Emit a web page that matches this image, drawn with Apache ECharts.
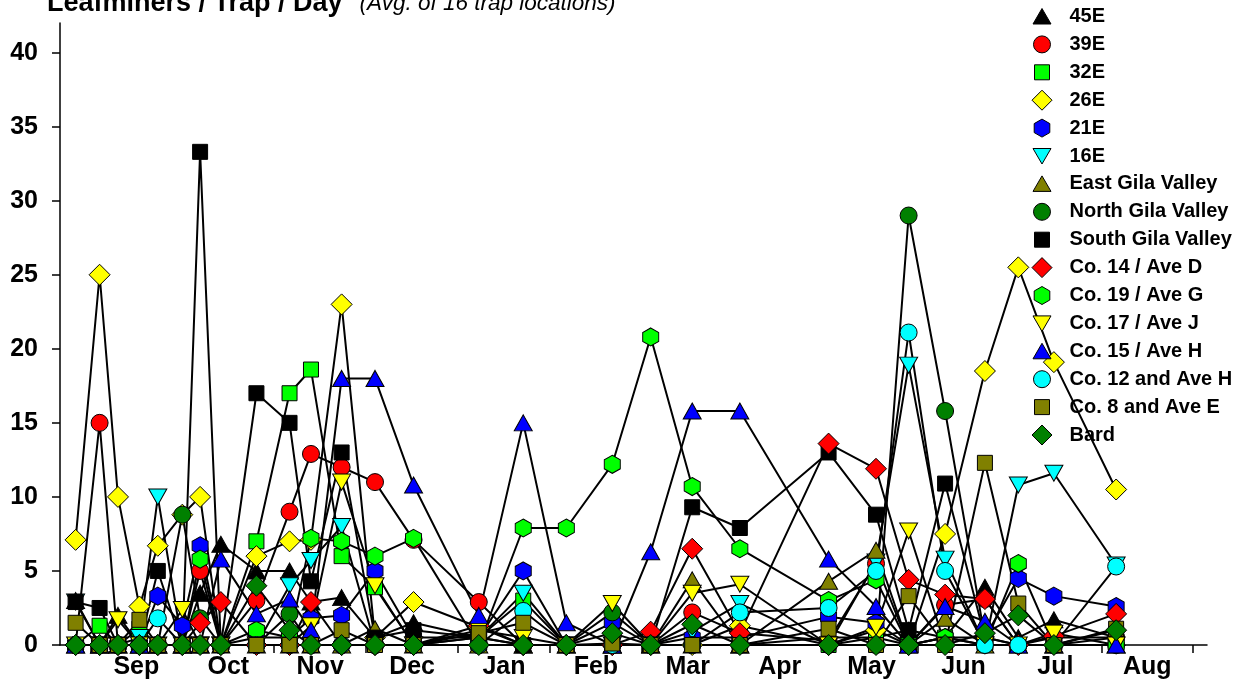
<!DOCTYPE html>
<html>
<head>
<meta charset="utf-8">
<script src="https://cdn.jsdelivr.net/npm/echarts@6/dist/echarts.min.js"></script>
<style>
  html, body { margin: 0; padding: 0; background: #fff; }
  #chart { width: 1252px; height: 684px; }
</style>
</head>
<body>
<div id="chart"></div>
<script>
// ---- Data ----
const sampleDates = [
  '2005-08-27','2005-09-04','2005-09-10','2005-09-17','2005-09-23','2005-10-01','2005-10-07','2005-10-14',
  '2005-10-26','2005-11-06','2005-11-13','2005-11-23','2005-12-04','2005-12-17','2006-01-08','2006-01-23',
  '2006-02-06','2006-02-20','2006-03-04','2006-03-18','2006-04-03','2006-05-02','2006-05-18','2006-05-29',
  '2006-06-10','2006-06-23','2006-07-04','2006-07-16','2006-08-06'
];
const monthLabels = ['Sep','Oct','Nov','Dec','Jan','Feb','Mar','Apr','May','Jun','Jul','Aug'];
const yTickValues = [0, 5, 10, 15, 20, 25, 30, 35, 40];

const s45E   = [3.0,0,2.0,0,0,0,3.5,6.8,5.0,5.0,2.9,3.2,0.5,1.5,0.5,0,0,0,0,0,0,0.5,0.5,1.0,0.5,3.9,0.5,1.7,0.5];
const s39E   = [0,15.0,0,0,0,0,5.0,0,3.0,9.0,12.9,12.0,11.0,7.1,2.9,0,0,0,0,2.2,0.8,0.3,5.5,0,2.7,3.1,0,0.5,0.5];
const s32E   = [0,1.3,0,1.1,0,0,0,0,7.0,17.0,18.6,6.0,3.9,0,0.5,3.0,0,0,0,0,0,0,0.5,0,0.5,0,0,0,0];
const s26E   = [7.1,25.0,10.0,2.6,6.7,8.8,10.0,0,6.0,7.0,7.1,23.0,0.5,2.9,1.2,0,0,0,0,0,1.3,0,1.0,0,7.5,18.5,25.5,19.1,10.5];
const s21E   = [0,0,0,0,3.3,1.3,6.7,0,0.5,0.5,1.8,2.0,5.0,0.5,0.5,5.0,0,1.5,0,0.5,0.5,1.9,1.5,0,0.5,0.5,4.5,3.3,2.6];
const s16E   = [2.9,0,0,0.5,10.0,0,0,0,0,4.0,5.7,8.0,0,0,0.5,3.5,0,0,0,0.9,2.8,0,5.6,18.9,5.8,0,10.8,11.6,5.4];
const sEGila = [0,0,0,0,0,0,0,0,0,0,0,0,1.1,0,0,0,0,0,0,4.4,0,4.3,6.4,0,1.8,0,0,0,0];
const sNGila = [0,0,0,0,0,8.8,1.8,0,0,2.1,0,0,0,0,0,0,0,2.2,0,0,0,0,0,29.0,15.8,0.5,0,0,0];
const sSGila = [2.9,2.5,0,0,5.0,0,33.3,0,17.0,15.0,4.3,13.0,0.5,1.0,0.5,0,0,0,0,9.3,7.9,13.0,8.8,1.0,10.9,0.5,0,0,0.5];
const sCo14  = [0,0,0,0,0,0,1.5,2.9,0,0,2.9,0,0,0,1.3,0,0,0,0.9,6.5,0.8,13.6,11.9,4.4,3.4,3.1,0,0.6,2.1];
const sCo19  = [0,0,0,0,0,0,5.8,0,1.0,0.5,7.2,7.0,6.0,7.2,0,7.9,7.9,12.2,20.8,10.7,6.5,3.0,4.4,0,0.5,0,5.5,0,0];
const sCo17  = [0,0,1.7,0,0,2.4,0,0,0,0,1.3,11.0,4.0,0,1.0,0.5,0,2.8,0,3.5,4.1,0,1.2,7.7,0,0,0,0.8,0];
const sCo15  = [0,0,0,0,0,0,0,5.8,2.1,3.1,1.0,18.0,18.0,10.8,2.0,15.0,1.5,0,6.3,15.8,15.8,5.8,2.6,0,2.6,1.6,0,0,0];
const sCo12  = [0,0,0,0,1.8,0,0,0,0,0,0,0,0,0,0,2.3,0,0,0,0,2.2,2.5,5.0,21.1,5.0,0,0,0,5.3];
const sCo8   = [1.5,0,0,1.7,0,0,0,0,0,0,0,1.0,0,0,0.8,1.5,0,0.1,0,0,0,1.1,0,3.3,0,12.3,2.8,0,1.1];
const sBard  = [0,0,0,0,0,0,0,0,4.0,1.0,0,0,0,0,0,0,0,0.8,0,1.4,0,0,0,0,0,0.8,2.0,0,1.0];

const seriesNames = ['45E','39E','32E','26E','21E','16E','East Gila Valley','North Gila Valley','South Gila Valley',
  'Co. 14 / Ave D','Co. 19 / Ave G','Co. 17 / Ave J','Co. 15 / Ave H','Co. 12 and Ave H','Co. 8 and Ave E','Bard'];
const seriesValues = [s45E,s39E,s32E,s26E,s21E,s16E,sEGila,sNGila,sSGila,sCo14,sCo19,sCo17,sCo15,sCo12,sCo8,sBard];
const seriesColors = ['#000000','#ff0000','#00ff00','#ffff00','#0000ff','#00ffff','#808000','#008000','#000000',
  '#ff0000','#00ff00','#ffff00','#0000ff','#00ffff','#808000','#008000'];
const seriesShapes = ['triUp','circle','rect','diamond','hex','triDown','triUp','circle','rect',
  'diamond','hex','triDown','triUp','circle','rect','diamond'];

// ---- Styles ----
const markerSymbol = {
  circle: 'circle',
  rect: 'rect',
  diamond: 'diamond',
  hex: 'path://M0.866,0 L1.732,0.5 L1.732,1.5 L0.866,2 L0,1.5 L0,0.5 Z',
  triDown: 'path://M0,0 L2,0 L1,1.732 Z',
  triUp: 'path://M1,0 L2,1.732 L0,1.732 Z'
};
const markerSize = { circle: 17, rect: 15, diamond: 21, hex: [16, 18], triUp: [18, 16], triDown: [18, 16] };
// legend icons drawn inside a common 21x21 frame so they keep their relative sizes
const FRAME = 'M0,0 M21,21 ';
const legendIcon = {
  circle: 'path://' + FRAME + 'M10.5,2 A8.5,8.5 0 1 1 10.49,2 Z',
  rect: 'path://' + FRAME + 'M3,3 L18,3 L18,18 L3,18 Z',
  diamond: 'path://' + FRAME + 'M10.5,0.5 L20.5,10.5 L10.5,20.5 L0.5,10.5 Z',
  hex: 'path://' + FRAME + 'M10.5,1.5 L18.3,6 L18.3,15 L10.5,19.5 L2.7,15 L2.7,6 Z',
  triUp: 'path://' + FRAME + 'M10.5,2.5 L19.5,18 L1.5,18 Z',
  triDown: 'path://' + FRAME + 'M1.5,3 L19.5,3 L10.5,18.5 Z'
};

// month position: 0 = Sep 1
function toMonthPos(str) {
  const [y, m, d] = str.split('-').map(Number);
  const idx = (y - 2005) * 12 + (m - 9);
  const dim = new Date(y, m, 0).getDate();
  return idx + (d - 1) / dim;
}
const xPos = sampleDates.map(toMonthPos);

const FONT = '"Liberation Sans", Arial, Helvetica, sans-serif';

const chart = echarts.init(document.getElementById('chart'), null, { renderer: 'canvas' });

const series = seriesNames.map((name, i) => ({
  name,
  type: 'line',
  data: seriesValues[i].map((v, j) => [xPos[j], v]),
  symbol: markerSymbol[seriesShapes[i]],
  symbolSize: markerSize[seriesShapes[i]],
  symbolKeepAspect: false,
  showAllSymbol: true,
  itemStyle: { color: seriesColors[i], borderColor: '#000', borderWidth: 1, opacity: 1 },
  lineStyle: { color: '#000', width: 2 },
  emphasis: { disabled: true },
  z: 2
}));

chart.setOption({
  animation: false,
  backgroundColor: '#ffffff',
  title: {
    left: 42,
    top: -15,
    text: '{b|Leafminers / Trap / Day}{g|}{i|(Avg. of 16 trap locations)}',
    textStyle: {
      rich: {
        b: { fontFamily: FONT, fontWeight: 'bold', fontSize: 27, color: '#000' },
        g: { width: 17 },
        i: { fontFamily: FONT, fontStyle: 'italic', fontWeight: 'normal', fontSize: 22.5, color: '#000' }
      }
    }
  },
  legend: {
    orient: 'vertical',
    left: 1026,
    top: 0.5,
    itemWidth: 21,
    itemHeight: 21,
    itemGap: 5.9,
    symbolKeepAspect: true,
    selectedMode: false,
    textStyle: { fontFamily: FONT, fontWeight: 'bold', fontSize: 20, color: '#000', padding: [0, 0, 0, 12], lineHeight: 20 },
    data: seriesNames.map((n, i) => ({
      name: n,
      icon: legendIcon[seriesShapes[i]],
      itemStyle: { color: seriesColors[i], borderColor: '#000', borderWidth: 1 }
    }))
  },
  grid: { left: 60, right: 45, top: 23, bottom: 39, containLabel: false, outerBoundsMode: 'none' },
  xAxis: {
    type: 'value',
    min: -0.331,
    max: 12.15,
    splitLine: { show: false },
    axisLine: { show: true, onZero: false, lineStyle: { color: '#000', width: 1.5 } },
    axisTick: { show: true, inside: false, length: 8, lineStyle: { color: '#000', width: 1.5 },
      customValues: [0,1,2,3,4,5,6,7,8,9,10,11,12] },
    axisLabel: {
      customValues: monthLabels.map((m, i) => i + 0.5),
      formatter: v => monthLabels[Math.floor(v)] || '',
      fontFamily: FONT, fontWeight: 'bold', fontSize: 25, color: '#000', margin: 10
    }
  },
  yAxis: {
    type: 'value',
    min: 0,
    max: 42,
    splitLine: { show: false },
    axisLine: { show: true, onZero: false, lineStyle: { color: '#000', width: 1.5 } },
    axisTick: { show: true, inside: false, length: 8, lineStyle: { color: '#000', width: 1.5 }, customValues: yTickValues },
    axisLabel: { customValues: yTickValues, fontFamily: FONT, fontWeight: 'bold', fontSize: 25, color: '#000', margin: 22 }
  },
  series
});
</script>
</body>
</html>
